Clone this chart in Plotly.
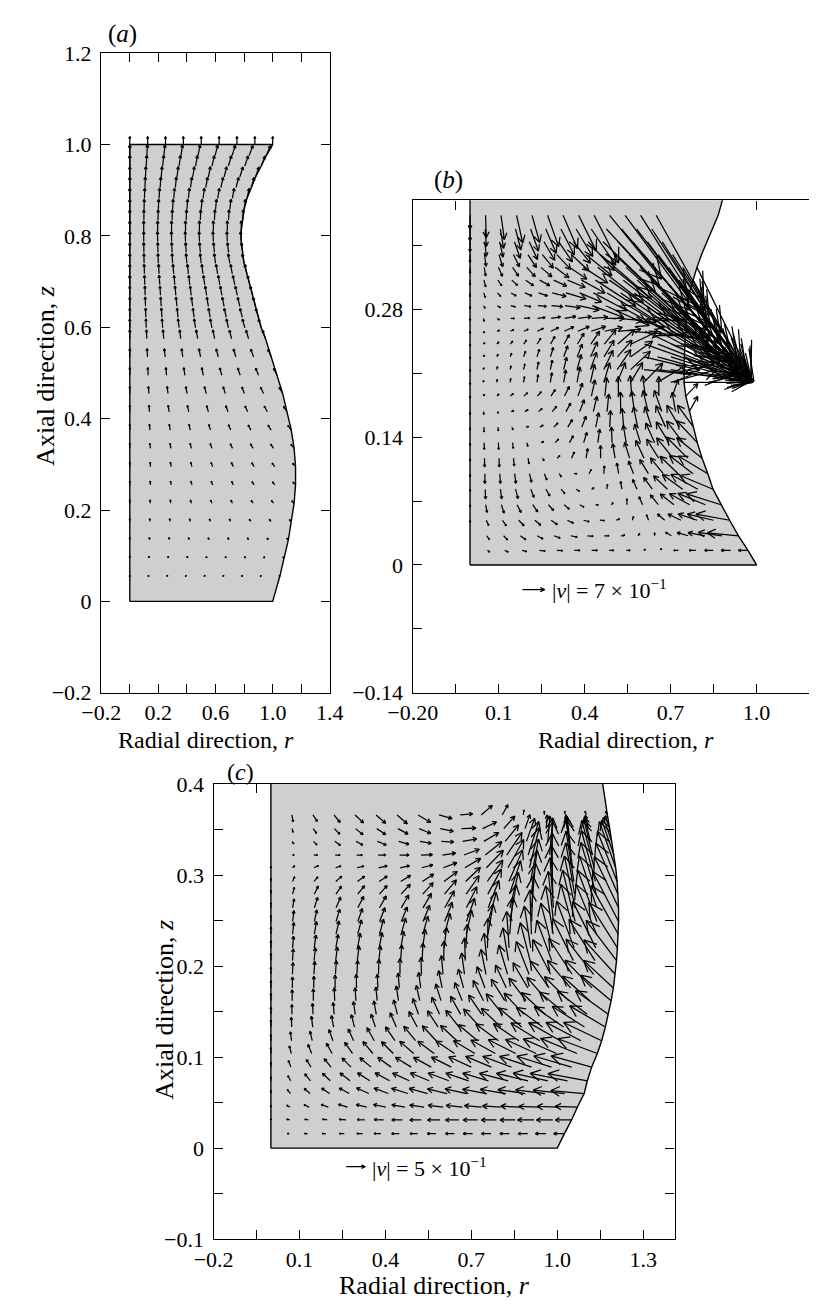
import math
import plotly.graph_objects as go

FIG_W, FIG_H = 823, 1313
SERIF = "Liberation Serif, Times New Roman, serif"
GREY = "#cfcfcf"

# ---------------------------------------------------------------------------
# Panel (a): velocity field over the whole bridge (9 nodes per row)
# ---------------------------------------------------------------------------
a_z = [1.0, 0.976, 0.953, 0.929, 0.906, 0.882, 0.858, 0.835, 0.811, 0.788,
       0.764, 0.74, 0.717, 0.693, 0.67, 0.646, 0.622, 0.599, 0.575, 0.535,
       0.495, 0.455, 0.415, 0.375, 0.335, 0.295, 0.255, 0.215, 0.175, 0.135,
       0.095, 0.055]
a_radius = [1.0, 0.955, 0.92, 0.88, 0.85, 0.82, 0.80, 0.79, 0.78, 0.78,
            0.79, 0.80, 0.82, 0.84, 0.86, 0.88, 0.90, 0.92, 0.95, 0.99,
            1.03, 1.07, 1.10, 1.13, 1.15, 1.16, 1.16, 1.15, 1.13, 1.11,
            1.08, 1.05]
a_speed = [0.75, 1.0, 1.0, 0.98, 0.97, 0.96, 0.95, 0.94, 0.93, 0.92,
           0.91, 0.9, 0.89, 0.88, 0.87, 0.86, 0.85, 0.84, 0.83, 0.78,
           0.72, 0.66, 0.6, 0.54, 0.48, 0.42, 0.36, 0.31, 0.26, 0.21,
           0.16, 0.1]
a_angle = [
    [90, 90, 90, 90, 90, 90, 90, 90, 90],
    [90, 87, 84, 81, 78, 75, 72, 69, 66],
    [90, 87, 84, 82, 79, 76, 73, 71, 68],
    [90, 88, 85, 82, 80, 78, 75, 72, 70],
    [90, 88, 86, 84, 82, 79, 77, 75, 73],
    [90, 88, 87, 85, 84, 82, 80, 79, 77],
    [90, 89, 88, 87, 86, 85, 84, 83, 82],
    [90, 90, 89, 89, 88, 88, 87, 87, 86],
    [90, 90, 90, 90, 90, 90, 90, 90, 90],
    [90, 90, 91, 91, 92, 92, 93, 93, 94],
    [90, 91, 92, 93, 94, 95, 96, 97, 98],
    [90, 91, 93, 94, 96, 97, 98, 100, 101],
    [90, 92, 93, 95, 96, 98, 100, 101, 103],
    [90, 92, 94, 95, 97, 99, 100, 102, 104],
    [90, 92, 94, 96, 97, 99, 101, 103, 105],
    [90, 92, 94, 96, 98, 100, 102, 104, 106],
    [90, 92, 94, 96, 98, 101, 103, 105, 107],
    [90, 92, 94, 97, 99, 101, 103, 106, 108],
    [90, 92, 95, 97, 100, 102, 105, 107, 110],
    [90, 93, 96, 99, 101, 104, 107, 110, 113],
    [90, 93, 96, 100, 103, 106, 109, 113, 116],
    [90, 94, 97, 101, 105, 109, 112, 116, 120],
    [90, 94, 98, 102, 106, 111, 115, 119, 123],
    [90, 95, 99, 104, 108, 113, 118, 122, 127],
    [90, 95, 100, 105, 110, 115, 120, 125, 130],
    [90, 95, 101, 106, 111, 117, 122, 128, 133],
    [90, 96, 101, 107, 112, 118, 124, 129, 135],
    [90, 96, 102, 108, 113, 119, 125, 131, 137],
    [90, 96, 102, 108, 114, 120, 126, 132, 138],
    [90, 96, 102, 109, 115, 121, 128, 134, 140],
    [90, 96, 102, 109, 115, 121, 128, 134, 140],
    [90, 96, 102, 109, 115, 121, 128, 134, 140],
]

# ---------------------------------------------------------------------------
# Panel (b): necking bridge, lower part (17 nodes per row, bottom to top)
# ---------------------------------------------------------------------------
b_z = [0.016, 0.032, 0.049, 0.066, 0.083, 0.1, 0.117, 0.134, 0.151, 0.168,
       0.185, 0.2, 0.214, 0.228, 0.242, 0.256, 0.27, 0.284, 0.298, 0.312,
       0.326, 0.34, 0.354, 0.368, 0.383]
b_radius = [0.97, 0.937, 0.906, 0.876, 0.848, 0.83, 0.81, 0.793, 0.78, 0.765,
            0.753, 0.747, 0.747, 0.748, 0.75, 0.752, 0.755, 0.758, 0.765, 0.778,
            0.792, 0.808, 0.826, 0.846, 0.866]
b_speed = [
    [0, .09, .12, .15, .18, .18, .18, .18, .15, .12, .06, .06, .15, .21, .27, .3, .3],
    [0, .15, .18, .21, .21, .21, .21, .18, .15, .12, .09, .09, .21, .36, .54, .75, .99],
    [.06, .18, .21, .24, .24, .24, .21, .18, .15, .12, .12, .18, .3, .45, .63, .84, 1.08],
    [.06, .24, .27, .27, .27, .24, .21, .15, .09, .09, .18, .27, .39, .54, .72, .93, 1.14],
    [.06, .3, .3, .3, .27, .24, .18, .12, .09, .15, .24, .33, .45, .6, .78, .96, 1.14],
    [.09, .3, .3, .3, .27, .21, .12, .09, .15, .24, .33, .42, .51, .63, .78, .93, 1.08],
    [.09, .27, .27, .24, .18, .09, .12, .21, .3, .39, .45, .51, .6, .69, .81, .93, 1.02],
    [.09, .21, .21, .18, .12, .09, .15, .24, .33, .42, .48, .54, .6, .66, .75, .84, .93],
    [.09, .15, .12, .09, .09, .12, .18, .27, .36, .45, .51, .57, .63, .66, .72, .78, .84],
    [.09, .09, .06, .09, .12, .15, .21, .3, .39, .48, .54, .6, .63, .66, .69, .6, .54],
    [.06, .06, .09, .12, .15, .18, .24, .33, .42, .51, .57, .6, .63, .63, .6, .54, .54],
    [.06, .06, .09, .12, .18, .24, .3, .39, .48, .57, .63, .66, .72, .84, 1.05, 1.5, 2.04],
    [.06, .06, .09, .12, .18, .24, .3, .39, .48, .57, .66, .75, .84, 1.5, 2.1, 2.4, 2.16],
    [.06, .06, .09, .12, .18, .24, .3, .36, .42, .51, .6, .69, .84, 1.8, 2.4, 2.67, 2.28],
    [.06, .06, .09, .12, .15, .21, .27, .33, .39, .48, .57, .69, .9, 2.1, 2.7, 2.82, 2.43],
    [.06, .06, .09, .12, .15, .21, .27, .33, .39, .48, .57, .72, .96, 2.4, 2.85, 3.0, 2.64],
    [.06, .09, .09, .12, .18, .24, .3, .36, .42, .51, .6, .75, 1.05, 2.7, 3.0, 3.15, 2.85],
    [.09, .09, .12, .15, .21, .27, .36, .48, .66, 1.05, 1.5, 1.95, 2.4, 2.85, 3.15, 3.3, 3.12],
    [.12, .15, .15, .18, .24, .3, .45, .66, .75, 1.2, 1.8, 2.4, 2.85, 3.3, 3.45, 3.45, 3.39],
    [.15, .21, .21, .24, .3, .36, .45, .6, .84, 1.5, 2.25, 3.0, 3.45, 3.6, 3.6, 3.54, 3.6],
    [.18, .27, .3, .33, .39, .45, .54, .66, .9, 1.8, 2.7, 3.45, 3.75, 3.75, 3.6, 3.45, 3.75],
    [.24, .36, .39, .42, .48, .54, .63, .75, 1.05, 2.1, 3.0, 3.6, 3.6, 3.3, 2.85, 0, 0],
    [.3, .45, .48, .54, .6, .66, .75, .84, 1.2, 2.25, 3.15, 3.6, 3.3, 2.7, 0, 0, 0],
    [.36, .54, .6, .66, .72, .81, .9, .99, 1.35, 2.4, 3.3, 3.6, 3.0, 0, 0, 0, 0],
    [.42, .69, .75, .87, .87, 1.02, 1.11, 1.23, 1.65, 2.55, 3.3, 3.6, 3.0, 0, 0, 0, 0],
]
b_angle = [
    [-90, -35, -25, -15, -8, -3, 0, 0, 0, 0, 30, 90, 180, 180, 180, 180, 180],
    [-90, -55, -45, -35, -28, -20, -12, -5, 0, 10, 45, 90, 150, 165, 170, 172, 175],
    [-90, -65, -55, -45, -40, -35, -25, -15, -5, 20, 70, 110, 140, 155, 162, 167, 170],
    [-90, -80, -72, -62, -55, -48, -40, -30, -10, 45, 90, 115, 130, 143, 152, 158, 163],
    [-90, -88, -82, -75, -68, -60, -50, -35, 30, 80, 100, 115, 127, 137, 145, 152, 158],
    [-90, -90, -86, -82, -76, -68, -55, 0, 60, 85, 100, 112, 122, 130, 137, 143, 150],
    [-90, -90, -88, -85, -80, -60, 40, 65, 80, 90, 100, 108, 116, 123, 130, 136, 142],
    [-90, -90, -88, -84, -75, 20, 45, 60, 72, 82, 92, 100, 108, 115, 122, 128, 134],
    [-90, -90, -85, -70, 10, 30, 45, 58, 68, 78, 87, 95, 102, 109, 115, 121, 127],
    [-90, -90, -60, 20, 30, 40, 50, 60, 68, 76, 84, 91, 98, 104, 110, 100, 60],
    [-90, 60, 45, 40, 42, 48, 55, 62, 70, 77, 84, 90, 95, 98, 90, 70, 45],
    [-90, 85, 80, 80, 80, 80, 80, 80, 79, 77, 73, 67, 58, 45, 30, 15, 0],
    [-90, 75, 75, 75, 76, 77, 77, 76, 74, 70, 64, 55, 42, -6, -7, -9, -10],
    [-90, 60, 65, 68, 70, 72, 72, 70, 68, 65, 58, 48, 35, -13, -15, -17, -20],
    [-90, 40, 45, 50, 55, 58, 60, 60, 58, 55, 50, 40, 25, -19, -21, -24, -29],
    [-90, -60, 20, 25, 25, 25, 25, 25, 22, 18, 12, 5, -5, -25, -28, -31, -36],
    [-90, -80, -30, 0, 5, 8, 10, 10, 8, 5, 0, -5, -15, -30, -34, -38, -43],
    [-90, -60, -30, -15, -8, -5, -5, -8, -12, -20, -24, -28, -32, -35, -39, -43, -49],
    [-90, -70, -45, -30, -22, -18, -14, -16, -22, -27, -30, -33, -36, -40, -43, -48, -53],
    [-90, -75, -55, -42, -35, -28, -24, -22, -28, -32, -34, -37, -41, -44, -48, -53, -59],
    [-90, -80, -65, -55, -47, -40, -36, -33, -32, -37, -38, -41, -45, -49, -53, -58, -63],
    [-90, -82, -72, -63, -56, -50, -46, -42, -38, -40, -42, -45, -49, -53, -57, -60, -60],
    [-90, -84, -77, -70, -64, -59, -55, -51, -47, -43, -46, -49, -53, -57, -60, -60, -60],
    [-90, -86, -80, -75, -70, -66, -62, -58, -55, -46, -49, -52, -56, -60, -60, -60, -60],
    [-90, -88, -82, -77, -74, -70, -66, -63, -62, -50, -53, -57, -60, -60, -60, -60, -60],
]
b_top_radius = 0.89
b_key_speed = 0.7

# ---------------------------------------------------------------------------
# Panel (c): bulging bridge, lower part (17 nodes per row, bottom to top)
# ---------------------------------------------------------------------------
c_z = [0.016, 0.031, 0.045, 0.06, 0.074, 0.089, 0.104, 0.118, 0.133, 0.147,
       0.162, 0.176, 0.191, 0.206, 0.22, 0.235, 0.249, 0.264, 0.279, 0.293,
       0.308, 0.322, 0.337, 0.351, 0.366]
c_radius = [1.025, 1.05, 1.07, 1.094, 1.105, 1.12, 1.14, 1.155, 1.168, 1.178,
            1.188, 1.196, 1.202, 1.207, 1.21, 1.213, 1.214, 1.214, 1.212, 1.209,
            1.204, 1.198, 1.19, 1.183, 1.175]
c_speed = [
    [0, .05, .08, .1, .13, .15, .18, .2, .2, .23, .23, .25, .25, .25, .25, .28, .28],
    [.03, .08, .1, .13, .18, .2, .25, .28, .3, .33, .35, .38, .4, .4, .43, .43, .43],
    [.05, .1, .15, .2, .25, .28, .33, .35, .38, .4, .43, .45, .48, .5, .53, .55, .58],
    [.08, .13, .2, .25, .3, .35, .4, .45, .5, .53, .58, .63, .68, .73, .78, .83, .88],
    [.1, .15, .23, .28, .33, .38, .43, .48, .53, .58, .63, .7, .78, .85, .93, 1.0, 1.05],
    [.13, .18, .23, .28, .33, .38, .43, .48, .53, .58, .65, .73, .8, .88, .95, 1.03, 1.1],
    [.15, .2, .25, .3, .35, .4, .43, .48, .53, .58, .65, .73, .8, .88, .95, 1.03, 1.1],
    [.15, .23, .25, .3, .33, .38, .43, .48, .53, .58, .65, .73, .8, .88, .95, 1.03, 1.1],
    [.18, .25, .28, .3, .33, .35, .4, .45, .5, .55, .63, .7, .78, .85, .93, 1.0, 1.08],
    [.18, .25, .28, .3, .33, .35, .38, .43, .48, .53, .6, .68, .75, .83, .9, .98, 1.05],
    [.18, .28, .3, .33, .33, .35, .38, .4, .45, .5, .58, .65, .73, .8, .88, .95, 1.03],
    [.18, .28, .3, .33, .35, .35, .38, .4, .45, .5, .58, .65, .75, .85, .93, 1.0, 1.05],
    [.18, .3, .33, .35, .35, .38, .4, .43, .48, .55, .65, .78, .9, 1.0, 1.1, 1.15, 1.2],
    [.18, .3, .33, .35, .38, .38, .4, .45, .5, .58, .7, .85, 1.0, 1.1, 1.2, 1.25, 1.3],
    [.18, .3, .33, .35, .38, .4, .43, .48, .53, .6, .75, .93, 1.08, 1.18, 1.28, 1.33, 1.38],
    [.18, .3, .33, .35, .38, .4, .43, .48, .55, .63, .78, .95, 1.13, 1.25, 1.33, 1.38, 1.43],
    [.15, .28, .3, .33, .35, .38, .4, .45, .53, .63, .78, .95, 1.15, 1.28, 1.35, 1.4, 1.45],
    [.13, .23, .28, .3, .33, .35, .38, .43, .5, .6, .75, .93, 1.15, 1.28, 1.35, 1.4, 1.45],
    [.1, .18, .23, .25, .28, .3, .35, .4, .48, .58, .73, .9, 1.13, 1.25, 1.33, 1.38, 1.43],
    [.08, .13, .15, .2, .23, .25, .3, .35, .43, .53, .68, .88, 1.1, 1.23, 1.3, 1.35, 1.38],
    [.03, .08, .13, .15, .18, .23, .25, .3, .38, .48, .63, .83, 1.05, 1.18, 1.25, 1.25, 1.25],
    [0, .05, .1, .13, .15, .2, .25, .3, .35, .43, .55, .7, .9, .95, .95, .95, .95],
    [0, .08, .13, .18, .2, .25, .28, .3, .33, .38, .45, .55, .63, .65, .65, .65, .65],
    [0, .1, .15, .2, .25, .28, .3, .33, .35, .38, .4, .43, .38, .35, .35, .35, .35],
    [0, .18, .2, .25, .3, .33, .35, .38, .35, .33, .38, .3, .13, .1, .1, .1, .1],
]
c_angle = [
    [90, 180, 180, 180, 180, 180, 180, 180, 180, 180, 180, 180, 180, 180, 180, 180, 180],
    [90, 165, 170, 172, 175, 177, 178, 180, 180, 180, 180, 180, 180, 180, 180, 180, 180],
    [90, 150, 155, 160, 163, 166, 168, 170, 172, 173, 174, 175, 176, 177, 178, 178, 178],
    [90, 130, 140, 147, 152, 156, 160, 163, 165, 167, 168, 170, 171, 172, 173, 174, 175],
    [90, 120, 130, 137, 143, 148, 152, 156, 158, 160, 162, 164, 166, 167, 168, 169, 170],
    [90, 112, 122, 130, 136, 141, 145, 149, 152, 154, 156, 158, 160, 162, 163, 164, 165],
    [90, 105, 113, 120, 126, 131, 136, 140, 144, 147, 150, 152, 154, 156, 157, 158, 160],
    [90, 98, 104, 110, 115, 120, 125, 130, 134, 138, 141, 144, 147, 149, 151, 153, 155],
    [90, 93, 97, 101, 105, 109, 114, 119, 124, 129, 133, 137, 141, 144, 146, 148, 150],
    [90, 91, 93, 95, 98, 101, 105, 110, 115, 120, 125, 130, 134, 138, 141, 143, 145],
    [90, 90, 91, 92, 94, 96, 99, 103, 108, 113, 118, 123, 128, 132, 136, 139, 141],
    [90, 89, 89, 90, 91, 93, 95, 98, 102, 106, 111, 116, 121, 126, 131, 135, 138],
    [90, 87, 86, 86, 87, 88, 90, 92, 95, 98, 102, 107, 112, 118, 124, 129, 133],
    [90, 86, 84, 83, 83, 84, 85, 87, 89, 92, 96, 100, 105, 111, 117, 123, 128],
    [90, 85, 82, 80, 79, 79, 80, 81, 83, 86, 89, 94, 99, 105, 111, 117, 123],
    [90, 84, 80, 77, 75, 74, 74, 74, 75, 77, 80, 85, 92, 99, 106, 113, 120],
    [90, 83, 77, 73, 70, 68, 67, 67, 68, 70, 74, 80, 88, 96, 104, 111, 118],
    [90, 80, 72, 66, 62, 60, 59, 59, 60, 63, 68, 76, 85, 94, 102, 109, 116],
    [90, 75, 63, 55, 50, 47, 46, 47, 49, 54, 61, 71, 82, 92, 100, 107, 114],
    [90, 65, 50, 40, 35, 32, 31, 32, 36, 43, 53, 66, 79, 90, 99, 106, 112],
    [90, 40, 25, 18, 14, 12, 12, 14, 20, 30, 45, 60, 76, 88, 98, 105, 110],
    [-90, 0, 0, 0, 0, 0, 0, 2, 8, 20, 38, 55, 72, 85, 96, 104, 110],
    [-90, -60, -45, -35, -28, -22, -16, -10, -3, 10, 30, 50, 70, 85, 96, 104, 110],
    [-90, -75, -55, -45, -38, -33, -28, -22, -12, 2, 25, 48, 70, 85, 96, 104, 110],
    [-90, -80, -55, -50, -42, -40, -40, -30, -15, 5, 40, 60, 80, 90, 100, 110, 120],
]
c_top_radius = 1.154
c_key_speed = 0.5

# Tick positions (labelled and unlabelled) and their labels
a_xticks = [-0.2, 0.2, 0.6, 1.0, 1.4]
a_xlabels = ["\u22120.2", "0.2", "0.6", "1.0", "1.4"]
a_xminor = [0.0, 0.4, 0.8, 1.2]
a_yticks = [-0.2, 0.0, 0.2, 0.4, 0.6, 0.8, 1.0, 1.2]
a_ylabels = ["\u22120.2", "0", "0.2", "0.4", "0.6", "0.8", "1.0", "1.2"]
b_xticks = [-0.2, 0.1, 0.4, 0.7, 1.0]
b_xlabels = ["\u22120.20", "0.1", "0.4", "0.7", "1.0"]
b_xminor = [-0.05, 0.25, 0.55, 0.85]
b_yticks = [-0.14, 0.0, 0.14, 0.28]
b_ylabels = ["\u22120.14", "0", "0.14", "0.28"]
b_yminor = [-0.07, 0.07, 0.21, 0.35]
c_xticks = [-0.2, 0.1, 0.4, 0.7, 1.0, 1.3]
c_xlabels = ["\u22120.2", "0.1", "0.4", "0.7", "1.0", "1.3"]
c_xminor = [-0.05, 0.25, 0.55, 0.85, 1.15]
c_yticks = [-0.1, 0.0, 0.1, 0.2, 0.3, 0.4]
c_ylabels = ["\u22120.1", "0", "0.1", "0.2", "0.3", "0.4"]
c_yminor = [-0.05, 0.05, 0.15, 0.25, 0.35]

# Plot frames in page pixels (left, right, top, bottom) and data ranges
FRAME = {
    "a": dict(px=(80, 320, 42, 694), xr=(-0.2, 1.4), yr=(-0.2, 1.2), k=11.0),
    "b": dict(px=(407, 823, 192, 694), xr=(-0.2, 1.183), yr=(-0.14, 0.3994), k=33.3),
    "c": dict(px=(198, 682, 787, 1251), xr=(-0.2, 1.41), yr=(-0.1, 0.4), k=40.0),
}
for f in FRAME.values():
    l, r, t, b = f["px"]
    f["ppx"] = (r - l) / (f["xr"][1] - f["xr"][0])
    f["ppy"] = (b - t) / (f["yr"][1] - f["yr"][0])


def add_arrow(xs, ys, x0, y0, speed, deg, f, head=0.3, spread=28):
    length = speed * f["k"]
    if length <= 0.6:
        return
    th = math.radians(deg)
    tx = x0 + length * math.cos(th) / f["ppx"]
    ty = y0 + length * math.sin(th) / f["ppy"]
    h = max(head * length, 1.6)
    wings = []
    for sgn in (1, -1):
        a = th + math.pi + sgn * math.radians(spread)
        wings.append((tx + h * math.cos(a) / f["ppx"], ty + h * math.sin(a) / f["ppy"]))
    xs += [x0, tx, wings[0][0], None, wings[1][0], tx, None]
    ys += [y0, ty, wings[0][1], None, wings[1][1], ty, None]


def field(z_rows, radii, speed, angle, ncols, f, row_speed=False):
    xs, ys = [], []
    for j, z in enumerate(z_rows):
        for i in range(ncols + 1):
            s = speed[j] if row_speed else speed[j][i]
            add_arrow(xs, ys, radii[j] * i / ncols, z, s, angle[j][i], f)
    return xs, ys


def outline(z_rows, radii, top_z, top_r):
    pts = [(0.0, 0.0), (1.0, 0.0)]
    pts += [(r, z) for z, r in sorted(zip(z_rows, radii))]
    pts += [(top_r, top_z), (0.0, top_z), (0.0, 0.0)]
    return [p[0] for p in pts], [p[1] for p in pts]


fig = go.Figure()
AX = {"a": ("x", "y"), "b": ("x2", "y2"), "c": ("x3", "y3")}

panels = {
    "a": (a_z, a_radius, a_speed, a_angle, 8, True, 1.0, 1.0),
    "b": (b_z, b_radius, b_speed, b_angle, 16, False, 0.41, b_top_radius),
    "c": (c_z, c_radius, c_speed, c_angle, 16, False, 0.41, c_top_radius),
}
for key, (zr, rad, spd, ang, n, rs, top_z, top_r) in panels.items():
    xa, ya = AX[key]
    ox, oy = outline(zr, rad, top_z, top_r)
    fig.add_trace(go.Scatter(x=ox, y=oy, mode="lines", fill="toself", fillcolor=GREY,
                             line=dict(color="black", width=1.4), xaxis=xa, yaxis=ya,
                             hoverinfo="skip", showlegend=False))
    fx, fy = field(zr, rad, spd, ang, n, FRAME[key], rs)
    fig.add_trace(go.Scatter(x=fx, y=fy, mode="lines", line=dict(color="black", width=1.25),
                             xaxis=xa, yaxis=ya, hoverinfo="skip", showlegend=False))

# Reference arrows beside the |v| keys
for key, spd, pos in (("b", b_key_speed, (0.183, -0.027)), ("c", c_key_speed, (0.263, -0.0204))):
    kx, ky = [], []
    add_arrow(kx, ky, pos[0], pos[1], spd, 0, FRAME[key], head=0.22, spread=25)
    xa, ya = AX[key]
    fig.add_trace(go.Scatter(x=kx, y=ky, mode="lines", line=dict(color="black", width=1.2),
                             xaxis=xa, yaxis=ya, hoverinfo="skip", showlegend=False))


def px_dom_x(l, r):
    return [l / FIG_W, r / FIG_W]


def px_dom_y(t, b):
    return [1 - b / FIG_H, 1 - t / FIG_H]


TICKFONT = dict(family=SERIF, size=22, color="black")


def axis(f, horizontal, vals, labels, minor_vals, anchor, mirror="ticks", layer="above traces"):
    l, r, t, b = f["px"]
    d = dict(range=list(f["xr"] if horizontal else f["yr"]),
             domain=px_dom_x(l, r) if horizontal else px_dom_y(t, b),
             tickmode="array", tickvals=vals, ticktext=labels, ticks="inside",
             ticklen=9, tickwidth=1.3, tickcolor="black", showline=True,
             linecolor="black", linewidth=1.4, mirror=mirror, showgrid=False,
             zeroline=False, tickfont=TICKFONT, anchor=anchor, layer=layer,
             fixedrange=True, ticklabelstandoff=0 if horizontal else 4)
    if minor_vals:
        d["minor"] = dict(tickmode="array", tickvals=minor_vals, ticks="inside",
                          ticklen=9, tickwidth=1.3, tickcolor="black", showgrid=False)
    return d


fa, fb, fc = FRAME["a"], FRAME["b"], FRAME["c"]
fig.update_layout(
    width=FIG_W, height=FIG_H, margin=dict(l=0, r=0, t=0, b=0), autosize=False,
    paper_bgcolor="white", plot_bgcolor="white", showlegend=False,
    xaxis=axis(fa, True, a_xticks, a_xlabels, a_xminor, "y"),
    yaxis=axis(fa, False, a_yticks, a_ylabels, None, "x"),
    xaxis2=axis(fb, True, b_xticks, b_xlabels, b_xminor, "y2", layer="below traces"),
    yaxis2=axis(fb, False, b_yticks, b_ylabels, b_yminor, "x2", mirror=False),
    xaxis3=axis(fc, True, c_xticks, c_xlabels, c_xminor, "y3", layer="below traces"),
    yaxis3=axis(fc, False, c_yticks, c_ylabels, c_yminor, "x3", layer="below traces"),
    yaxis4=dict(overlaying="y2", side="right", anchor="x2", range=list(fb["yr"]),
                tickmode="array", tickvals=b_yticks + b_yminor, ticks="inside", ticklen=9,
                tickwidth=1.3, tickcolor="black", showticklabels=False,
                showline=False, showgrid=False, zeroline=False, fixedrange=True),
)


def note(text, x, y, size=26, angle=0, xanchor="center"):
    fig.add_annotation(text=text, x=x / FIG_W, y=1 - y / FIG_H, xref="paper", yref="paper",
                       showarrow=False, textangle=angle, xanchor=xanchor, yanchor="middle",
                       font=dict(family=SERIF, size=size, color="black"))


note("(<i>a</i>)", 102, 22, size=25)
note("(<i>b</i>)", 445, 171, size=25)
note("(<i>c</i>)", 226, 775, size=24)
note("Axial direction, <i>z</i>", 22, 371, angle=-90)
note("Radial direction, <i>r</i>", 190, 742, size=24)
note("Radial direction, <i>r</i>", 631, 742, size=24)
note("Axial direction, <i>z</i>", 147, 1017, angle=-90)
note("Radial direction, <i>r</i>", 430, 1298)
note("|<i>v</i>| = 7 \u00d7 10<sup>\u22121</sup>", 551, 588, size=22, xanchor="left")
note("|<i>v</i>| = 5 \u00d7 10<sup>\u22121</sup>", 362, 1177, size=22, xanchor="left")

fig.write_html("out.html", config={"responsive": False},
               post_script="document.body.style.margin='0px';")
